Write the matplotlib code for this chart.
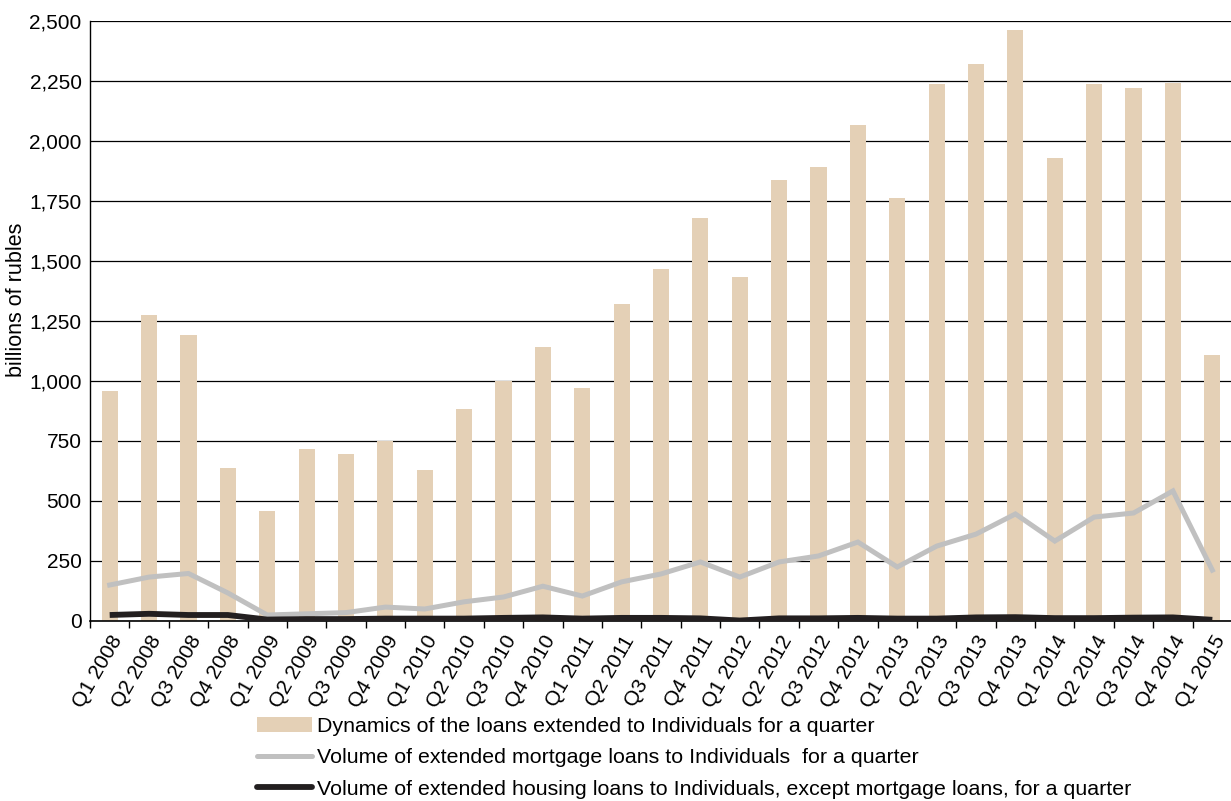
import matplotlib
matplotlib.use("Agg")
import matplotlib.pyplot as plt
import numpy as np
from matplotlib.patches import Patch
from matplotlib.lines import Line2D
from matplotlib.ticker import FuncFormatter, MultipleLocator

plt.rcParams['font.family'] = ['Liberation Sans', 'DejaVu Sans']

quarters = ['Q1 2008', 'Q2 2008', 'Q3 2008', 'Q4 2008',
            'Q1 2009', 'Q2 2009', 'Q3 2009', 'Q4 2009',
            'Q1 2010', 'Q2 2010', 'Q3 2010', 'Q4 2010',
            'Q1 2011', 'Q2 2011', 'Q3 2011', 'Q4 2011',
            'Q1 2012', 'Q2 2012', 'Q3 2012', 'Q4 2012',
            'Q1 2013', 'Q2 2013', 'Q3 2013', 'Q4 2013',
            'Q1 2014', 'Q2 2014', 'Q3 2014', 'Q4 2014',
            'Q1 2015']

# billions of rubles per quarter
loans_total = [960, 1275, 1192, 637,
               458, 717, 696, 750,
               629, 883, 1000, 1142,
               971, 1321, 1467, 1679,
               1433, 1838, 1892, 2067,
               1763, 2238, 2321, 2463,
               1929, 2238, 2221, 2242,
               1108]

mortgage = [150, 183, 198, 117,
            25, 30, 35, 58,
            50, 80, 100, 145,
            104, 163, 196, 246,
            183, 246, 271, 329,
            225, 312, 362, 446,
            333, 433, 450, 542,
            212]

housing_other = [25, 30, 25, 25,
                 6, 8, 8, 10,
                 10, 10, 13, 15,
                 10, 13, 13, 11,
                 2, 11, 11, 13,
                 10, 10, 15, 16,
                 12, 12, 14, 15,
                 5]

legend_labels = ['Dynamics of the loans extended to Individuals for a quarter',
                 'Volume of extended mortgage loans to Individuals  for a quarter',
                 'Volume of extended housing loans to Individuals, except mortgage loans, for a quarter']

bar_color = '#E4D0B6'
gray_color = '#C0C0C0'
dark_color = '#231F20'

W, H = 1231, 801
fig = plt.figure(figsize=(W / 100, H / 100), dpi=100)
ax = fig.add_axes([90 / W, 1 - 621 / H, (1232 - 90) / W, 600 / H])

x = np.arange(len(quarters))
ax.bar(x, loans_total, width=0.41, color=bar_color, zorder=2)
ax.plot(x, mortgage, color=gray_color, lw=3.6, zorder=3, solid_joinstyle='miter')
ax.plot(x, housing_other, color=dark_color, lw=4.2, zorder=4, solid_capstyle='butt')

ax.set_xlim(-0.5, len(quarters) - 0.5)
ax.set_ylim(0, 2500)
ax.yaxis.set_major_locator(MultipleLocator(250))
ax.yaxis.set_major_formatter(FuncFormatter(lambda v, p: f'{int(v):,}'))
ax.grid(axis='y', color='black', lw=0.9, zorder=1)
ax.set_axisbelow(True)

ax.set_xticks(x)
ax.set_xticklabels(quarters, rotation=60, ha='right', va='top',
                   rotation_mode='anchor', fontsize=15)
ax.set_xticks(np.arange(len(quarters) + 1) - 0.5, minor=True)
ax.tick_params(axis='x', which='major', length=0, pad=8)
ax.tick_params(axis='x', which='minor', length=5, width=1, direction='out', color='black')
ax.tick_params(axis='y', length=0, pad=6, labelsize=15)

for side in ['top', 'right']:
    ax.spines[side].set_visible(False)
ax.spines['left'].set_color('black')
ax.spines['left'].set_linewidth(1.0)
ax.spines['bottom'].set_color('black')
ax.spines['bottom'].set_linewidth(1.2)

ax.set_ylabel('billions of rubles', fontsize=15.5)
ax.yaxis.set_label_coords((27 - 90) / 1142, 0.535)

handles = [Patch(facecolor=bar_color, edgecolor='none'),
           Line2D([0], [0], color=gray_color, lw=3.6, solid_capstyle='round'),
           Line2D([0], [0], color=dark_color, lw=4.2, solid_capstyle='round')]
fig.legend(handles, legend_labels, loc='upper left',
           bbox_to_anchor=(257 / W, 1 - 717 / H), frameon=False,
           fontsize=15.4, handlelength=2.57, handleheight=0.65,
           handletextpad=0.23, labelspacing=0.58, borderpad=0, borderaxespad=0)

fig.savefig('out.png', dpi=100)
